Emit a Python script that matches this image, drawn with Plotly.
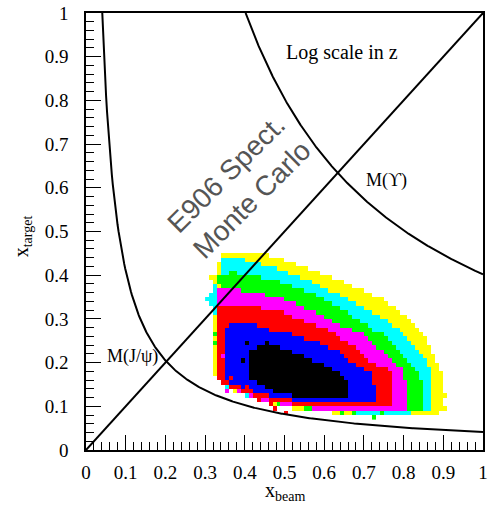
import numpy as np
import plotly.graph_objects as go

# ---------------- data ----------------
# x_beam * x_target = tau curves
tau_jpsi = 0.041
tau_upsilon = 0.402
diag_x = [0.0, 1.0]
diag_y = [0.0, 1.0]

# log-z level boundaries (outer contour of each colour level)
# level 1 (yellow)
yellow_x = [0.322, 0.335, 0.345, 0.43, 0.50, 0.54, 0.59, 0.627, 0.673, 0.707, 0.758, 0.80, 0.835, 0.845, 0.868, 0.894, 0.905, 0.905, 0.895, 0.80, 0.70, 0.62, 0.55, 0.50, 0.45, 0.41, 0.37, 0.34, 0.325]
yellow_y = [0.39, 0.43, 0.455, 0.455, 0.435, 0.42, 0.404, 0.393, 0.374, 0.363, 0.34, 0.309, 0.283, 0.275, 0.232, 0.186, 0.16, 0.11, 0.085, 0.08, 0.08, 0.085, 0.092, 0.098, 0.108, 0.12, 0.135, 0.15, 0.17]
# level 2 (cyan)
cyan_x = [0.305, 0.32, 0.335, 0.34, 0.384, 0.426, 0.468, 0.50, 0.552, 0.59, 0.627, 0.673, 0.707, 0.758, 0.80, 0.838, 0.868, 0.875, 0.875, 0.80, 0.70, 0.62, 0.55, 0.50, 0.45, 0.41, 0.37, 0.34, 0.328, 0.328]
cyan_y = [0.345, 0.37, 0.39, 0.438, 0.438, 0.428, 0.418, 0.41, 0.392, 0.374, 0.36, 0.34, 0.324, 0.296, 0.265, 0.232, 0.186, 0.15, 0.09, 0.083, 0.083, 0.088, 0.095, 0.10, 0.11, 0.122, 0.137, 0.152, 0.17, 0.30]
# level 3 (green)
green_x = [0.326, 0.326, 0.37, 0.426, 0.468, 0.50, 0.552, 0.59, 0.627, 0.673, 0.715, 0.752, 0.79, 0.833, 0.846, 0.846, 0.75, 0.65, 0.57, 0.50, 0.45, 0.41, 0.37, 0.34, 0.33]
green_y = [0.25, 0.40, 0.406, 0.398, 0.388, 0.383, 0.364, 0.352, 0.333, 0.306, 0.279, 0.262, 0.229, 0.183, 0.16, 0.09, 0.086, 0.088, 0.093, 0.102, 0.112, 0.124, 0.139, 0.154, 0.17]
# level 4 (magenta)
magenta_x = [0.33, 0.33, 0.37, 0.426, 0.468, 0.50, 0.552, 0.59, 0.64, 0.705, 0.74, 0.765, 0.80, 0.806, 0.806, 0.70, 0.60, 0.52, 0.46, 0.41, 0.37, 0.34]
magenta_y = [0.17, 0.366, 0.368, 0.36, 0.352, 0.347, 0.325, 0.313, 0.286, 0.262, 0.229, 0.21, 0.183, 0.16, 0.095, 0.09, 0.092, 0.10, 0.11, 0.125, 0.14, 0.155]
# level 5 (red)
red_x = [0.335, 0.335, 0.37, 0.426, 0.468, 0.50, 0.552, 0.594, 0.612, 0.64, 0.687, 0.72, 0.764, 0.775, 0.775, 0.70, 0.60, 0.52, 0.46, 0.41, 0.37]
red_y = [0.16, 0.33, 0.332, 0.328, 0.318, 0.315, 0.292, 0.281, 0.275, 0.256, 0.229, 0.198, 0.183, 0.16, 0.10, 0.095, 0.097, 0.105, 0.115, 0.128, 0.142]
# level 6 (blue)
blue_x = [0.35, 0.35, 0.384, 0.426, 0.468, 0.50, 0.552, 0.594, 0.636, 0.678, 0.72, 0.726, 0.726, 0.65, 0.58, 0.52, 0.47, 0.43, 0.39]
blue_y = [0.16, 0.283, 0.289, 0.285, 0.274, 0.27, 0.255, 0.243, 0.225, 0.195, 0.175, 0.15, 0.11, 0.107, 0.11, 0.115, 0.123, 0.133, 0.145]
# level 7 (black)
black_x = [0.41, 0.405, 0.46, 0.51, 0.552, 0.594, 0.636, 0.655, 0.66, 0.60, 0.52, 0.47, 0.43]
black_y = [0.165, 0.228, 0.244, 0.228, 0.213, 0.198, 0.18, 0.165, 0.125, 0.122, 0.124, 0.135, 0.155]

# isolated / irregular cells at the edges (x, y, level)
speck_x = [0.315, 0.335, 0.405, 0.435, 0.475, 0.505, 0.645, 0.745, 0.905, 0.355, 0.365,
           0.325, 0.325, 0.345, 0.365, 0.465, 0.715, 0.725, 0.885, 0.905, 0.675, 0.405, 0.455, 0.395]
speck_y = [0.395, 0.375, 0.145, 0.115, 0.095, 0.085, 0.085, 0.085, 0.095, 0.135, 0.145,
           0.265, 0.245, 0.215, 0.165, 0.105, 0.085, 0.075, 0.085, 0.125, 0.085, 0.245, 0.245, 0.205]
speck_lv = [1, 1, 5, 5, 5, 5, 3, 3, 1, 4, 5,
            3, 3, 4, 5, 5, 2, 3, 1, 1, 3, 7, 7, 7]

level_colors = ['#ffff00', '#00ffff', '#00ff00', '#ff00ff', '#ff0000', '#0000ff', '#000000']

# ---------------- build the 2D histogram (0.01 bins) ----------------
xc = np.round(np.arange(0.305, 0.92, 0.01), 3)
yc = np.round(np.arange(0.075, 0.47, 0.01), 3)
XX, YY = np.meshgrid(xc, yc)


def inside(px, py, vx, vy):
    vx = np.asarray(vx); vy = np.asarray(vy)
    res = np.zeros(px.shape, bool)
    n = len(vx)
    j = n - 1
    for i in range(n):
        xi, yi, xj, yj = vx[i], vy[i], vx[j], vy[j]
        if yi != yj:
            cross = ((yi > py) != (yj > py)) & (px < (xj - xi) * (py - yi) / (yj - yi) + xi)
            res ^= cross
        j = i
    return res


polys = [(yellow_x, yellow_y), (cyan_x, cyan_y), (green_x, green_y), (magenta_x, magenta_y),
         (red_x, red_y), (blue_x, blue_y), (black_x, black_y)]
Z = np.zeros(XX.shape)
for lv, (px_, py_) in enumerate(polys, start=1):
    Z[inside(XX, YY, px_, py_)] = lv
for sx, sy, sl in zip(speck_x, speck_y, speck_lv):
    i = int(np.argmin(np.abs(yc - sy)))
    j = int(np.argmin(np.abs(xc - sx)))
    Z[i, j] = sl
Zp = np.where(Z > 0, Z, np.nan)

cs = []
for k, c in enumerate(level_colors):
    cs.append([k / 7, c])
    cs.append([(k + 1) / 7, c])

fig = go.Figure()
fig.add_trace(go.Heatmap(x=xc, y=yc, z=Zp, colorscale=cs, zmin=0.5, zmax=7.5,
                         showscale=False, hoverongaps=False))

line = dict(color='black', width=2)
xj = np.linspace(tau_jpsi, 1.0, 400)
fig.add_trace(go.Scatter(x=xj, y=tau_jpsi / xj, mode='lines', line=line, showlegend=False))
xu = np.linspace(tau_upsilon, 1.0, 400)
fig.add_trace(go.Scatter(x=xu, y=tau_upsilon / xu, mode='lines', line=line, showlegend=False))
fig.add_trace(go.Scatter(x=diag_x, y=diag_y, mode='lines', line=line, showlegend=False))

serif = 'Liberation Serif, Times New Roman, serif'
ann = [
    dict(x=0.645, y=0.91, text='Log scale in z', font=dict(family=serif, size=20, color='black')),
    dict(x=0.757, y=0.617, text='M(ϒ)', font=dict(family=serif, size=18, color='black')),
    dict(x=0.048, y=0.213, text='M(J/ψ)', xanchor='left', font=dict(family=serif, size=18, color='black')),
    dict(x=0.386, y=0.602, text='E906 Spect.<br>Monte Carlo', textangle=-45,
         font=dict(family='Liberation Sans, Arial, sans-serif', size=28, color='#555555')),
]
for a in ann:
    a.update(xref='x', yref='y', showarrow=False)
    a.setdefault('xanchor', 'center')
    a['yanchor'] = 'middle'
fig.update_layout(annotations=ann)
fig.add_annotation(x=0.5, y=-0.095, xref='paper', yref='paper', text='x<sub>beam</sub>', showarrow=False,
                   font=dict(family=serif, size=20, color='black'), xanchor='center', yanchor='middle')
fig.add_annotation(x=-0.16, y=0.49, xref='paper', yref='paper', text='x<sub>target</sub>', showarrow=False,
                   textangle=-90, font=dict(family=serif, size=20, color='black'), xanchor='center', yanchor='middle')

axis = dict(range=[0, 1], showgrid=False, zeroline=False, showline=True, mirror=True, automargin=False,
            linecolor='black', linewidth=1.5, ticks='inside', ticklen=15, tickwidth=1, tickcolor='black',
            dtick=0.1, tick0=0, tickfont=dict(family=serif, size=19, color='black'),
            ticklabeloverflow='allow',
            minor=dict(ticks='inside', ticklen=8, dtick=0.02, tickcolor='black', tickwidth=1, showgrid=False))
fig.update_xaxes(**axis)
fig.update_yaxes(**axis)
fig.update_xaxes(ticklabelstandoff=4)
fig.update_yaxes(ticklabelstandoff=12)
fig.update_layout(width=488, height=505, autosize=False, margin=dict(l=86, r=5, t=13, b=55),
                  plot_bgcolor='white', paper_bgcolor='white', showlegend=False)

# remove the browser's default 8px page margin so the figure fills the window exactly
fig.write_html('out.html', config={'displayModeBar': False},
               post_script="document.body.style.margin='0px';")
